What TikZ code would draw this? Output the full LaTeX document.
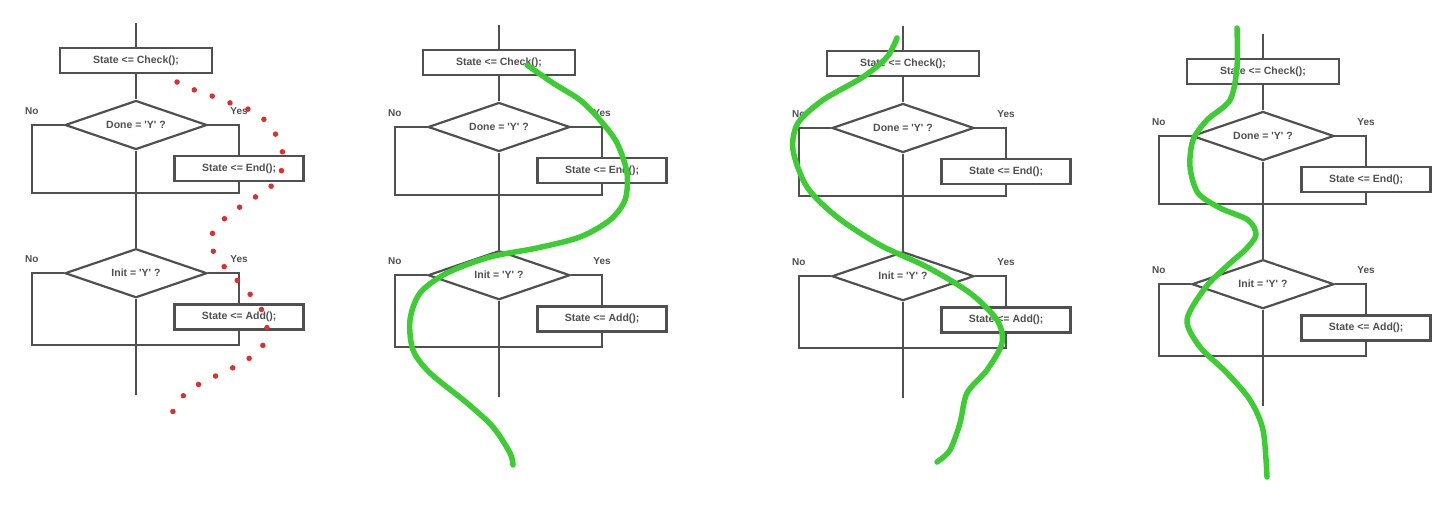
\documentclass[tikz,border=0pt]{standalone}
\usepackage{fontspec}
\setmainfont{Liberation Sans}
\usetikzlibrary{positioning, shapes.geometric}

\definecolor{flowgray}{RGB}{80,80,80}
\definecolor{pathgreen}{RGB}{60,205,50}
\definecolor{dotred}{RGB}{225,45,45}

\tikzset{
  flowline/.style={draw=flowgray, line width=2.2pt},
  flowbox/.style={rectangle, draw=flowgray, line width=2.4pt, fill=white, minimum height=25pt, inner sep=1pt, font=\bfseries\fontsize{10.5}{12}\selectfont, text=flowgray},
  decision/.style={diamond, aspect=2.9, draw=flowgray, line width=2.2pt, fill=white, minimum width=142pt, minimum height=49pt, inner sep=0pt, font=\bfseries\fontsize{10.5}{12}\selectfont, text=flowgray},
  branchlbl/.style={inner sep=0pt, font=\bfseries\fontsize{10}{11}\selectfont, text=flowgray},
  trace/.style={pathgreen, line width=5.5pt, line cap=round, line join=round},
}

\begin{document}
\begin{tikzpicture}[x=1pt, y=-1pt]
  \useasboundingbox (0,0) rectangle (1440,506);

  % the same flowchart four times
  \foreach \p/\px/\py in {a/136/0, b/499/2, c/903/3, d/1263/11}{
    \begin{scope}[shift={(\px,\py)}]
      \coordinate (top\p) at (0,23);
      \node[flowbox, minimum width=152pt, below=24pt of top\p] (check\p) {State <= Check();};

      % first decision
      \node[decision, below=25pt of check\p] (done\p) {Done = \textquotesingle Y\textquotesingle\ ?};
      \coordinate (no\p) at ([xshift=-32pt]done\p.west);
      \coordinate (yes\p) at ([xshift=31pt]done\p.east);
      \node[flowbox, minimum width=129pt, below=30pt of yes\p] (end\p) {State <= End();};
      \coordinate (join\p) at ([yshift=-42pt]done\p.south);

      % second decision
      \node[decision, below=55pt of join\p] (init\p) {Init = \textquotesingle Y\textquotesingle\ ?};
      \coordinate (noo\p) at ([xshift=-32pt]init\p.west);
      \coordinate (yess\p) at ([xshift=31pt]init\p.east);
      \node[flowbox, minimum width=129pt, below=30pt of yess\p] (add\p) {State <= Add();};
      \coordinate (joinn\p) at ([yshift=-46pt]init\p.south);
      \coordinate (bot\p) at ([yshift=-50pt]joinn\p);

      \draw[flowline] (top\p) -- (check\p) -- (done\p) -- (join\p) -- (init\p) -- (joinn\p) -- (bot\p);
      \draw[flowline] (done\p.west) -- (no\p) |- (join\p);
      \draw[flowline] (done\p.east) -- (yes\p) -- (end\p.north);
      \draw[flowline] (end\p.south) |- (join\p);
      \draw[flowline] (init\p.west) -- (noo\p) |- (joinn\p);
      \draw[flowline] (init\p.east) -- (yess\p) -- (add\p.north);
      \draw[flowline] (add\p.south) |- (joinn\p);

      \node[branchlbl, above=10pt of no\p] (nolbl\p) {No};
      \node[branchlbl, above=10pt of yes\p] (yeslbl\p) {Yes};
      \node[branchlbl, above=10pt of noo\p] (noolbl\p) {No};
      \node[branchlbl, above=10pt of yess\p] (yesslbl\p) {Yes};
    \end{scope}
  }

  % dotted path
  \draw[dotred, line width=5.5pt, line cap=round, dash pattern=on 0pt off 19pt]
    plot[smooth] coordinates {(177,82) (197,91) (215,97) (233,104) (250,110) (267,122) (277,137)
      (283,155) (280,175) (267,190) (250,200) (233,212) (220,223) (210,240) (218,260) (230,272)
      (243,287) (257,302) (265,318) (267,338) (255,354) (238,365) (222,373) (203,382) (187,392)
      (175,407) (168,425)};

  % green paths
  \draw[trace] plot[smooth] coordinates {(527,65) (553,83) (580,100) (600,120) (617,143) (627,173)
      (625,200) (610,220) (580,237) (537,248) (490,257) (447,273) (420,293) (410,320) (413,350)
      (430,373) (467,403) (493,427) (510,453) (513,465)};
  \draw[trace] plot[smooth] coordinates {(897,38) (887,57) (863,77) (823,100) (798,123) (793,150)
      (807,187) (837,217) (880,245) (927,267) (970,293) (997,320) (1002,343) (987,370) (967,393)
      (960,423) (950,450) (937,462)};
  \draw[trace] plot[smooth] coordinates {(1237,28) (1237,67) (1230,100) (1207,120) (1193,140)
      (1190,167) (1198,193) (1220,208) (1248,220) (1256,235) (1245,250) (1228,265) (1205,288)
      (1187,320) (1200,347) (1227,373) (1250,400) (1263,430) (1267,477)};
\end{tikzpicture}
\end{document}
